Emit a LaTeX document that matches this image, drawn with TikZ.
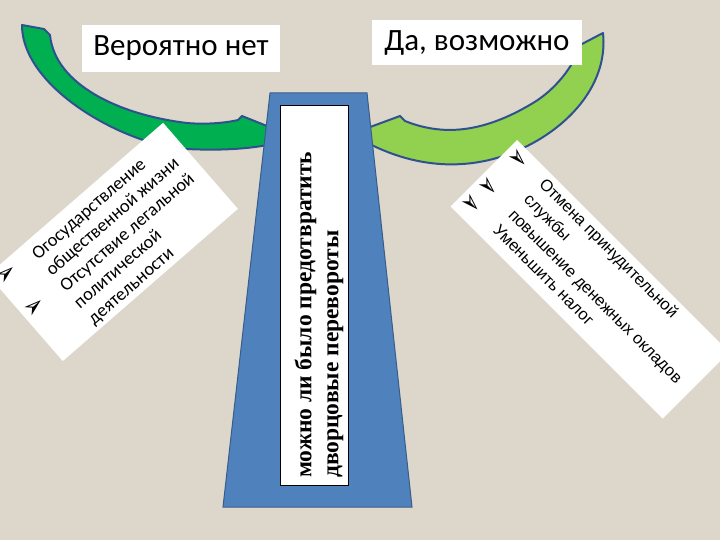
\documentclass[tikz,border=0pt]{standalone}
\usepackage{fontspec}
\setmainfont{Carlito}
\newfontfamily\timesfont{Liberation Serif}
\newfontfamily\arialfont{Liberation Sans}
\newfontfamily\symbfont{DejaVu Sans}
\definecolor{bgbeige}{RGB}{221,214,203}
\definecolor{darkgreen}{RGB}{0,176,80}
\definecolor{lightgreen}{RGB}{146,208,80}
\definecolor{edgeblue}{RGB}{47,82,143}
\definecolor{pillarblue}{RGB}{79,129,189}
\definecolor{pillaredge}{RGB}{56,93,138}

\begin{document}
\begin{tikzpicture}[x=1pt,y=-1pt,
		band/.style={draw=edgeblue,line width=2pt,line join=round},
		card/.style={fill=white},
		tag/.style={fill=white,inner sep=0pt,font=\fontsize{31}{31}\selectfont},
		bulletmark/.style={inner sep=0pt,font=\symbfont\fontsize{25}{25}\selectfont},
		cardline/.style={anchor=base west,inner sep=0pt}]
	\clip (0,0) rectangle (720,540);
	\fill [bgbeige] (0,0) rectangle (720,540);
	% curved arrows
	\path [band,fill=darkgreen] (22,25) .. controls (22,90) and (130,147) .. (187,149) .. controls (225,151) and (255,148) .. (272,144) -- (272,128) -- (242,116) -- (238,120) .. controls (230,122) and (210,125) .. (187,123) .. controls (120,115) and (55,85) .. (50,35) -- (44,29) -- cycle;
	\path [band,fill=lightgreen] (362,130) -- (400,116) -- (405,121) .. controls (440,135) and (480,135) .. (533,103) .. controls (555,90) and (575,65) .. (580,45) -- (603,33) .. controls (608,80) and (575,120) .. (533,143) .. controls (480,172) and (420,172) .. (362,140) -- cycle;
	% pillar
	\path [draw=pillaredge,line width=1pt,fill=pillarblue] (270,93) -- (367,93) -- (412,507) -- (223,507) -- cycle;
	\node [draw=black,line width=0.8pt,fill=white,inner sep=0pt,minimum width=68pt,minimum height=380pt] (question) at (314,295) {};
	\node [rotate=90,anchor=west,align=left,inner sep=0pt,font=\timesfont\bfseries\fontsize{23.5}{27}\selectfont] (questiontext) at (319,478) {можно ли было предотвратить\\дворцовые перевороты};
	% left card
	\begin{scope}[shift={(-12,275)},rotate=41,transform shape]
		\fill [card] (0,0) rectangle (232,114);
		\foreach \txt [count=\i from 0] in {Огосударствление,общественной жизни,Отсутствие легальной,политической,деятельности}
			\node [cardline,font=\fontsize{18.5}{18.5}\selectfont] (leftline\i) at (47,{22+21.4*\i}) {\txt};
		\node [bulletmark] (leftmark1) at (15,12) {➢};
		\node [bulletmark] (leftmark2) at (14,55) {➢};
	\end{scope}
	% right card
	\begin{scope}[shift={(517,140)},rotate=-45,transform shape]
		\fill [card] (0,0) rectangle (300,94);
		\foreach \txt [count=\i from 0] in {Отмена принудительной,службы,повышение денежных окладов,Уменьшить налог}
			\node [cardline,font=\arialfont\fontsize{16.5}{16.5}\selectfont] (rightline\i) at (47,{17+21.7*\i}) {\txt};
		\node [bulletmark] (rightmark1) at (14,13) {➢};
		\node [bulletmark] (rightmark2) at (13,54) {➢};
		\node [bulletmark] (rightmark3) at (13,78) {➢};
	\end{scope}
	% answers
	\node [tag,minimum width=198pt,minimum height=47pt] (answerno) at (181,48.5) {Вероятно нет};
	\node [tag,minimum width=210pt,minimum height=45pt] (answeryes) at (477,42.5) {Да, возможно};
\end{tikzpicture}
\end{document}
